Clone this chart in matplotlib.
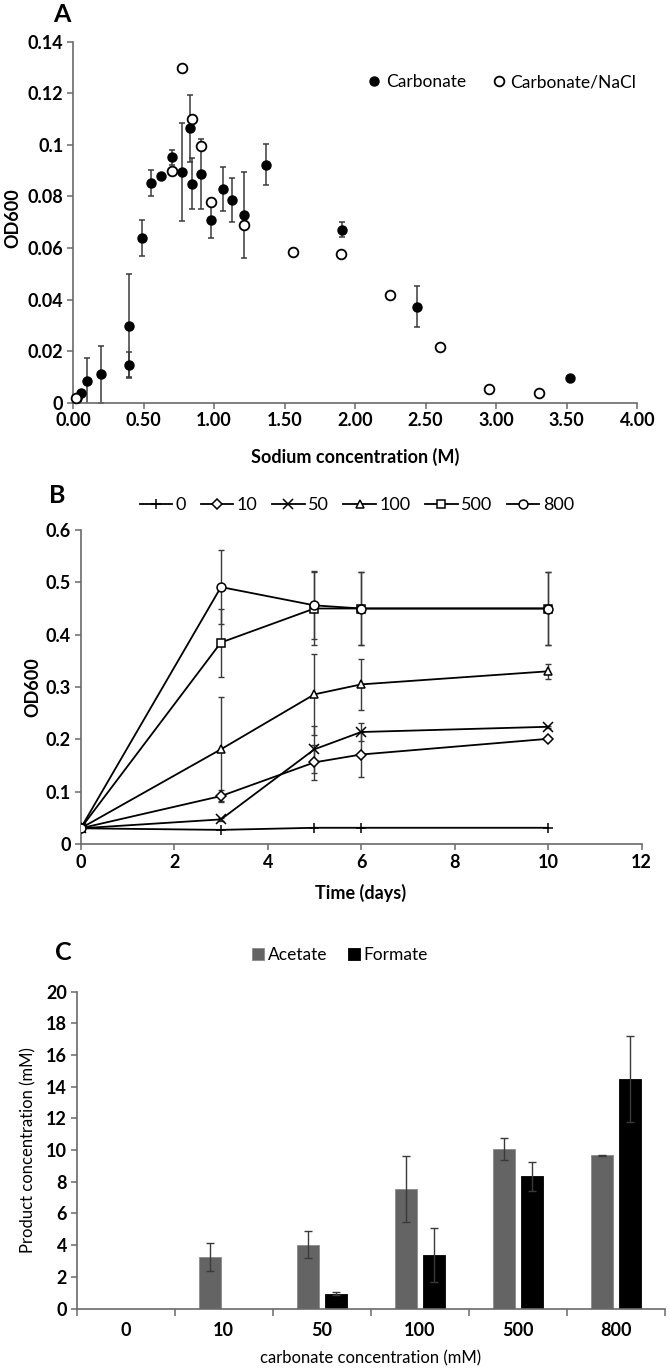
import matplotlib
matplotlib.use("Agg")
import matplotlib.pyplot as plt
import numpy as np

plt.rcParams['font.family'] = ['Lato', 'DejaVu Sans']

# ---------------- Panel A data ----------------
carb_x = [0.03, 0.06, 0.10, 0.20, 0.40, 0.40, 0.49, 0.55, 0.625, 0.70, 0.77, 0.83, 0.84, 0.91, 0.98, 1.06, 1.13, 1.21, 1.37, 1.91, 2.44, 3.52]
carb_y = [0.002, 0.0037, 0.0083, 0.011, 0.0299, 0.0145, 0.0637, 0.0853, 0.0878, 0.0951, 0.0894, 0.1065, 0.085, 0.0886, 0.0708, 0.083, 0.0786, 0.0727, 0.0923, 0.0671, 0.0373, 0.0096]
carb_err = [0, 0, 0.009, 0.011, 0.020, 0.005, 0.007, 0.005, 0.001, 0.003, 0.019, 0.013, 0.010, 0.0135, 0.007, 0.0086, 0.0087, 0.0167, 0.008, 0.003, 0.008, 0]
nacl_x = [0.02, 0.70, 0.77, 0.84, 0.91, 0.98, 1.21, 1.56, 1.90, 2.25, 2.60, 2.95, 3.30]
nacl_y = [0.002, 0.0898, 0.1299, 0.110, 0.0994, 0.0777, 0.0691, 0.0586, 0.0578, 0.0419, 0.0217, 0.0052, 0.0036]
a_xticks = [0, 0.5, 1.0, 1.5, 2.0, 2.5, 3.0, 3.5, 4.0]
a_yticks = [0, 0.02, 0.04, 0.06, 0.08, 0.1, 0.12, 0.14]
a_yticklabels = ['0', '0.02', '0.04', '0.06', '0.08', '0.1', '0.12', '0.14']

# ---------------- Panel B data ----------------
days = [0, 3, 5, 6, 10]
b_labels = ['0', '10', '50', '100', '500', '800']
od_0 = [0.030, 0.027, 0.031, 0.031, 0.031]
od_10 = [0.030, 0.0916, 0.156, 0.171, 0.201]
od_50 = [0.030, 0.047, 0.181, 0.214, 0.224]
od_100 = [0.030, 0.181, 0.286, 0.305, 0.330]
od_500 = [0.030, 0.385, 0.450, 0.450, 0.450]
od_800 = [0.030, 0.491, 0.456, 0.450, 0.450]
err_0 = [0, 0, 0, 0, 0]
err_10 = [0, 0.012, 0.034, 0.043, 0.003]
err_50 = [0, 0.003, 0.045, 0.018, 0.002]
err_100 = [0, 0.099, 0.077, 0.049, 0.014]
err_500 = [0, 0.065, 0.070, 0.070, 0.070]
err_800 = [0, 0.070, 0.065, 0.070, 0.070]

# ---------------- Panel C data ----------------
c_cats = ['0', '10', '50', '100', '500', '800']
acetate = [0, 3.26, 4.04, 7.54, 10.05, 9.66]
acetate_err = [0, 0.88, 0.84, 2.08, 0.70, 0.03]
formate = [0, 0, 0.93, 3.39, 8.34, 14.5]
formate_err = [0, 0, 0.10, 1.70, 0.93, 2.70]

W, H = 669, 1370
fig = plt.figure(figsize=(W / 100, H / 100), dpi=100)

def ax_at(left, top, right, bottom):
    return fig.add_axes([left / W, 1 - bottom / H, (right - left) / W, (bottom - top) / H])

spine_col = '#6a6a6a'
err_col = '#3a3a3a'
tick_fs = 13

def style(ax):
    for s in ['top', 'right']:
        ax.spines[s].set_visible(False)
    for s in ['left', 'bottom']:
        ax.spines[s].set_color(spine_col)
        ax.spines[s].set_linewidth(1.2)
    ax.tick_params(direction='out', length=4, width=1.1, color=spine_col,
                   labelsize=tick_fs, pad=3)
    for lab in ax.get_xticklabels() + ax.get_yticklabels():
        lab.set_fontweight('bold')

def place_labels(ax, xl, yl):
    ax.xaxis.set_label_coords(xl[0] / W, 1 - xl[1] / H, transform=fig.transFigure)
    ax.yaxis.set_label_coords(yl[0] / W, 1 - yl[1] / H, transform=fig.transFigure)
    ax.xaxis.label.set_va('center')
    ax.yaxis.label.set_va('center')
    ax.yaxis.label.set_rotation_mode('anchor')

# ================= Panel A =================
axA = ax_at(73, 41.7, 637.3, 402.7)
axA.errorbar(carb_x, carb_y, yerr=carb_err, fmt='none', ecolor=err_col,
             elinewidth=1.1, capsize=2.5, capthick=1.1, zorder=2)
axA.plot(carb_x, carb_y, 'o', color='black', markersize=6.5, linestyle='none',
         zorder=3, clip_on=False, label='Carbonate')
axA.plot(nacl_x, nacl_y, 'o', markerfacecolor='white', markeredgecolor='black',
         markeredgewidth=1.3, markersize=7.0, linestyle='none', zorder=4,
         clip_on=False, label='Carbonate/NaCl')
axA.set_xlim(0, 4)
axA.set_ylim(0, 0.14)
axA.set_xticks(a_xticks)
axA.set_xticklabels([f'{v:.2f}' for v in a_xticks])
axA.set_yticks(a_yticks)
axA.set_yticklabels(a_yticklabels)
style(axA)
axA.set_xlabel('Sodium concentration (M)', fontsize=13, fontweight='bold')
axA.set_ylabel('OD600', fontsize=13, fontweight='bold')
place_labels(axA, (355, 457), (13, 218))
axA.legend(loc='center', bbox_to_anchor=(500 / W, 1 - 82 / H),
           bbox_transform=fig.transFigure, ncol=2, frameon=False,
           fontsize=12.5, handletextpad=0.05, columnspacing=1.3,
           handlelength=1.2)
fig.text(62 / W, 1 - 15 / H, 'A', fontsize=18, fontweight='bold', ha='center', va='center')

# ================= Panel B =================
axB = ax_at(80.7, 530, 641.7, 844)
series = [od_0, od_10, od_50, od_100, od_500, od_800]
errs = [err_0, err_10, err_50, err_100, err_500, err_800]
markers = ['+', 'D', 'x', '^', 's', 'o']
msizes = [6.5, 4.8, 6.5, 6.4, 6.4, 6.4]
for i, (ys, es, m, ms, lab) in enumerate(zip(series, errs, markers, msizes, b_labels)):
    ev = [e if e > 0 else np.nan for e in es]
    axB.errorbar(days, ys, yerr=ev, fmt='none', ecolor=err_col, elinewidth=1.0,
                 capsize=2.5, capthick=1.0, zorder=2 + i * 0.1)
    axB.plot(days, ys, '-', color='black', lw=1.3, marker=m, markersize=ms,
             markerfacecolor='white', markeredgecolor='black', markeredgewidth=1.1,
             zorder=3 + i * 0.1, label=lab)
axB.set_xlim(0, 12)
axB.set_ylim(0, 0.6)
axB.set_xticks(range(0, 13, 2))
axB.set_yticks([0, 0.1, 0.2, 0.3, 0.4, 0.5, 0.6])
axB.set_yticklabels(['0', '0.1', '0.2', '0.3', '0.4', '0.5', '0.6'])
style(axB)
axB.set_xlabel('Time (days)', fontsize=13, fontweight='bold')
axB.set_ylabel('OD600', fontsize=13, fontweight='bold')
place_labels(axB, (361, 893), (33, 687))
axB.legend(loc='center', bbox_to_anchor=(357 / W, 1 - 505 / H),
           bbox_transform=fig.transFigure, ncol=6, frameon=False,
           fontsize=13, handletextpad=0.2, columnspacing=0.8, handlelength=1.8)
fig.text(57 / W, 1 - 495 / H, 'B', fontsize=18, fontweight='bold', ha='center', va='center')

# ================= Panel C =================
axC = ax_at(76.7, 991.7, 665, 1308.5)
xc = np.arange(len(c_cats))
bw = 0.225
off = 0.142
axC.bar(xc - off, acetate, width=bw, color='#646464', edgecolor='#8a8a8a',
        linewidth=0.6, label='Acetate', zorder=2)
axC.bar(xc + off, formate, width=bw, color='black', edgecolor='black',
        linewidth=0.6, label='Formate', zorder=2)
for xs, vals, es in [(xc - off, acetate, acetate_err), (xc + off, formate, formate_err)]:
    xs_f = [x for x, e in zip(xs, es) if e > 0]
    v_f = [v for v, e in zip(vals, es) if e > 0]
    e_f = [e for e in es if e > 0]
    axC.errorbar(xs_f, v_f, yerr=e_f, fmt='none', ecolor=err_col, elinewidth=1.0,
                 capsize=3, capthick=1.0, zorder=3)
axC.set_xlim(-0.5, len(c_cats) - 0.5)
axC.set_ylim(0, 20)
axC.set_yticks(range(0, 21, 2))
axC.set_xticks(xc)
axC.set_xticklabels(c_cats)
axC.set_xticks(np.arange(-0.5, len(c_cats), 1.0), minor=True)
style(axC)
axC.tick_params(axis='x', which='major', length=0, pad=10)
axC.tick_params(axis='x', which='minor', direction='out', length=5, width=1.1, color=spine_col)
axC.set_xlabel('carbonate concentration (mM)', fontsize=12)
axC.set_ylabel('Product concentration (mM)', fontsize=12)
place_labels(axC, (371, 1358), (28, 1150))
axC.legend(loc='center', bbox_to_anchor=(340 / W, 1 - 955 / H),
           bbox_transform=fig.transFigure, ncol=2, frameon=False,
           fontsize=12.5, handletextpad=0.2, columnspacing=1.2,
           handlelength=0.7, handleheight=0.7)
fig.text(63 / W, 1 - 952 / H, 'C', fontsize=18, fontweight='bold', ha='center', va='center')

fig.savefig('out.png', dpi=100)
